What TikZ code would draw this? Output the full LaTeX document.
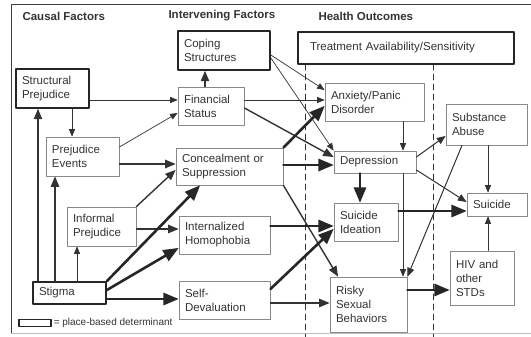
\documentclass[tikz,border=0pt]{standalone}
\usepackage{fontspec}
\setmainfont{Liberation Sans}
\usetikzlibrary{arrows}

\definecolor{ink}{HTML}{333333}
\definecolor{rule}{HTML}{888888}

\begin{document}
\begin{tikzpicture}[line cap=round,line join=round,>=triangle 45,x=1pt,y=-1pt,
  every node/.style={text=ink,font=\fontsize{11.5}{14}\selectfont},
  thinbox/.style={draw=rule,line width=0.9pt,align=left,inner xsep=6pt,inner ysep=2pt},
  thickbox/.style={draw=black!85,line width=1.8pt,align=left,inner xsep=6pt,inner ysep=2pt},
  head/.style={anchor=west,font=\bfseries\fontsize{11.5}{14}\selectfont},
  arrA/.style={->,draw=ink,line width=0.7pt},
  arrB/.style={->,draw=ink,line width=1.4pt},
  arrC/.style={->,draw=black!85,line width=2.6pt}]
\useasboundingbox (0,0) rectangle (531,337);

% frame and separators
\draw[black!75,line width=0.8pt] (531,4) -- (11,4) -- (11,333);
\draw[black!25,line width=0.6pt] (11,333) -- (531,333);
\draw[ink,line width=0.6pt,dash pattern=on 6pt off 4pt] (305,64) -- (305,337);
\draw[ink,line width=0.6pt,dash pattern=on 6pt off 4pt] (433,64) -- (433,337);

% headings
\node[head] (hcause) at (19,16) {Causal Factors};
\node[head] (hinter) at (165,16) {Intervening Factors};
\node[head] (hhealth) at (315,16) {Health Outcomes};

% causal factors
\node[thickbox,text width=61pt,minimum height=39pt] (str) at (52.5,88.5) {Structural\\Prejudice};
\node[thinbox,text width=61pt,minimum height=39pt] (pev) at (82.5,156.5) {Prejudice\\Events};
\node[thinbox,text width=57pt,minimum height=39pt] (inf) at (101.5,226.5) {Informal\\Prejudice};
\node[thickbox,text width=61pt,minimum height=22pt] (stg) at (69.5,293) {Stigma};

% intervening factors
\node[thickbox,text width=80pt,minimum height=39pt] (cop) at (224,50.5) {Coping\\Structures};
\node[thinbox,text width=54pt,minimum height=38pt] (fin) at (211,106) {Financial\\Status};
\node[thinbox,text width=95pt,minimum height=37pt] (con) at (229.5,166.5) {Concealment or\\Suppression};
\node[thinbox,text width=79pt,minimum height=38pt] (hom) at (224.5,235) {Internalized\\Homophobia};
\node[thinbox,text width=79pt,minimum height=38pt] (sev) at (224.5,300) {Self-\\Devaluation};

% health outcomes
\node[thickbox,text width=192pt,inner xsep=12pt,minimum height=32pt] (trt) at (406,48) {Treatment Availability/Sensitivity};
\node[thinbox,text width=87pt,minimum height=38pt] (anx) at (374.5,102) {Anxiety/Panic\\Disorder};
\node[thinbox,text width=70pt,minimum height=22pt] (dep) at (375,162) {Depression};
\node[thinbox,text width=52pt,minimum height=38pt] (sid) at (366,222) {Suicide\\Ideation};
\node[thinbox,text width=65pt,minimum height=55pt] (rsk) at (368.5,304.5) {Risky\\Sexual\\Behaviors};
\node[thinbox,text width=69pt,minimum height=41pt] (sub) at (486.5,124.5) {Substance\\Abuse};
\node[thinbox,text width=48pt,minimum height=23pt] (sui) at (497,204.5) {Suicide};
\node[thinbox,text width=52pt,minimum height=54pt] (hiv) at (482,278) {HIV and\\other\\STDs};

% legend
\node[thickbox,minimum width=32pt,minimum height=7pt,inner sep=0pt] (key) at (35,323) {};
\node[anchor=west,inner sep=0pt,font=\fontsize{10}{12}\selectfont] (keytxt) at (key.east) {\,= place-based determinant};

% causal -> intervening
\draw[arrA] ([yshift=-11.5pt]str.east) -- ([yshift=6pt]fin.west);
\draw[arrA] ([xshift=19.5pt]str.south) -- ([xshift=-10.5pt]pev.north);
\draw[arrA] ([yshift=9.5pt]pev.east) -- ([yshift=-7pt]fin.west);
\draw[arrB] ([yshift=-7.5pt]pev.east) -- ([yshift=2.5pt]con.west);
\draw[arrB] ([xshift=-31.5pt]stg.north) -- ([xshift=-14.5pt]str.south);
\draw[arrB] ([xshift=-14.5pt]stg.north) -- ([xshift=-27.5pt]pev.south);
\draw[arrA] ([xshift=7.5pt]stg.north) -- ([xshift=-24.5pt]inf.south);
\draw[arrB] (inf.north east) -- ([yshift=-3.5pt]con.west);
\draw[arrB] ([yshift=-2.5pt]inf.east) -- ([yshift=6pt]hom.west);
\draw[arrC] (stg.north east) -- ([xshift=-29.5pt]con.south);
\draw[arrC] ([yshift=3pt]stg.east) -- ([yshift=-13pt]hom.west);
\draw[arrC] ([yshift=-6pt]stg.east) -- ([yshift=1pt]sev.west);

% intervening -> outcomes
\draw[arrB] ([xshift=-6pt]fin.north) -- ([xshift=-19pt]cop.south);
\draw[arrA] ([yshift=6pt]fin.east) -- ([yshift=2pt]anx.west);
\draw[arrB] ([yshift=-2pt]fin.east) -- ([yshift=5pt]dep.west);
\draw[arrA] ([yshift=-4.5pt]cop.east) -- ([yshift=12pt]anx.west);
\draw[arrA] ([yshift=-7.5pt]cop.east) -- (dep.north west);
\draw[arrC] (con.north east) -- ([yshift=-4pt]anx.west);
\draw[arrC] ([yshift=1.5pt]con.east) -- ([yshift=-3pt]dep.west);
\draw[arrB] (con.south east) -- ([xshift=-30.5pt]rsk.north);
\draw[arrC] ([yshift=9pt]hom.east) -- ([yshift=-4pt]sid.west);
\draw[arrC] ([yshift=11pt]sev.east) -- ([yshift=-7pt]sid.west);
\draw[arrB] ([yshift=-3pt]sev.east) -- ([yshift=1.5pt]rsk.west);

% among outcomes
\draw[arrA] ([xshift=28.5pt]anx.south) -- ([xshift=28pt]dep.north);
\draw[arrC] ([xshift=-15pt]dep.south) -- ([xshift=-6pt]sid.north);
\draw[arrA,line width=1pt] ([yshift=5pt]dep.east) -- ([yshift=-11.5pt]sub.west);
\draw[arrA,line width=1pt] ([yshift=-8pt]dep.east) -- ([yshift=2.5pt]sui.west);
\draw[arrA] ([xshift=28pt]dep.south) -- ([xshift=34.5pt]rsk.north);
\draw[arrA,line width=1pt] ([xshift=-24.5pt]sub.south) -- (rsk.north east);
\draw[arrA] ([xshift=1.5pt]sub.south) -- ([xshift=-9pt]sui.north);
\draw[arrC] ([yshift=11pt]sid.east) -- ([yshift=-6.5pt]sui.west);
\draw[arrA] ([xshift=6pt]hiv.north) -- ([xshift=-9pt]sui.south);
\draw[arrC] ([yshift=14.5pt]rsk.east) -- ([yshift=-12pt]hiv.west);

\end{tikzpicture}
\end{document}
